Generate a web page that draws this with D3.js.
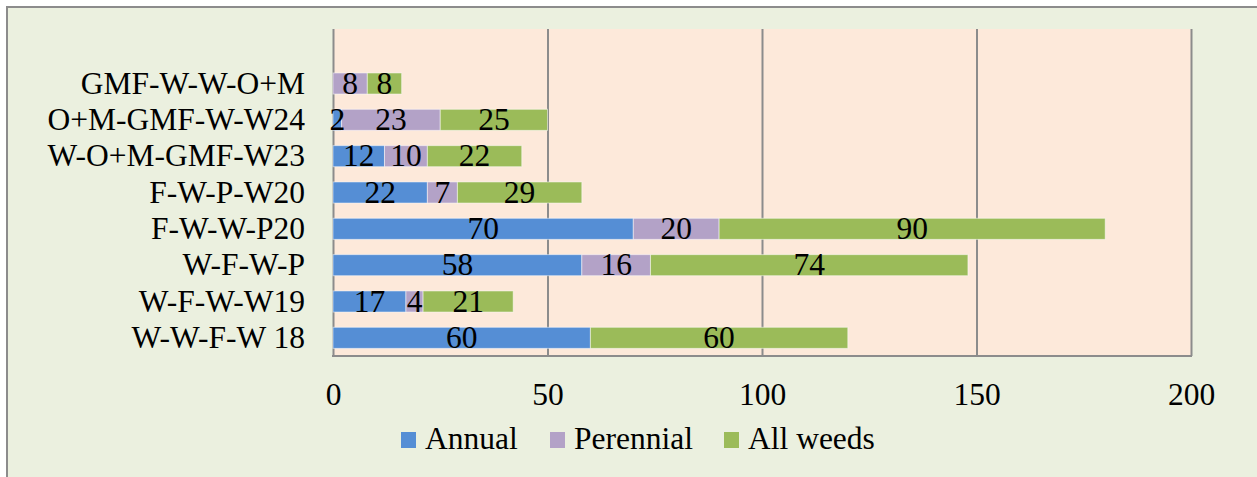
<!DOCTYPE html>
<html>
<head>
  <meta charset="UTF-8">
  <script src="https://d3js.org/d3.v7.min.js"></script>
  <title>Weeds by rotation</title>
  <style>
    body { margin: 0; background: #fff; }
  </style>
</head>
<body>
  <svg id="chart"></svg>
  <script>

    // categories, bottom to top as in the picture ("" is the empty top row)
    var categories = ["W-W-F-W 18", "W-F-W-W19", "W-F-W-P", "F-W-W-P20", "F-W-P-W20",
                      "W-O+M-GMF-W23", "O+M-GMF-W-W24", "GMF-W-W-O+M", ""];
    var annual    = [60, 17, 58, 70, 22, 12, 2, 0];
    var perennial = [0, 4, 16, 20, 7, 10, 23, 8];
    var allWeeds  = [60, 21, 74, 90, 29, 22, 25, 8];
    var seriesNames  = ["Annual", "Perennial", "All weeds"];
    var seriesColors = ["#558ED5", "#B3A2C7", "#9BBB59"];
    var tickValues = [0, 50, 100, 150, 200];

    var width = 1257, height = 477;
    var plot = {left: 333, right: 1191, top: 29, bottom: 356};
    var font = "'Liberation Serif', Tinos, 'Times New Roman', serif";
    var fontSize = 31.5;

    var svg = d3.select("#chart")
        .attr("width", width)
        .attr("height", height)
        .attr("font-family", font);

    // chart area background + border (runs off the right/bottom edge)
    svg.append("rect")
        .attr("x", 7).attr("y", 7)
        .attr("width", width + 20).attr("height", height + 20)
        .attr("fill", "#EBF0DF")
        .attr("stroke", "#8C8C8C")
        .attr("stroke-width", 2);

    svg.append("rect")
        .attr("x", plot.left).attr("y", plot.top)
        .attr("width", plot.right - plot.left)
        .attr("height", plot.bottom - plot.top)
        .attr("fill", "#FDE9DA");

    var x = d3.scaleLinear()
        .domain([0, 200])
        .range([plot.left, plot.right]);

    var y = d3.scaleBand()
        .domain(categories.slice().reverse())
        .range([plot.top, plot.bottom])
        .paddingInner(0.42)
        .paddingOuter(0.21);

    // gridlines + tick labels
    var xAxis = svg.append("g")
        .attr("transform", "translate(0," + plot.bottom + ")")
        .call(d3.axisBottom(x).tickValues(tickValues).tickSize(-(plot.bottom - plot.top)).tickPadding(0));
    xAxis.attr("font-family", font).attr("font-size", fontSize);
    xAxis.select(".domain").remove();
    xAxis.selectAll(".tick line")
        .attr("stroke", "#8C8C8C")
        .attr("stroke-width", 2);
    xAxis.selectAll(".tick text")
        .attr("y", 49)
        .attr("dy", 0)
        .attr("fill", "#000");

    svg.append("line")
        .attr("x1", plot.left - 1).attr("x2", plot.right + 1)
        .attr("y1", plot.bottom).attr("y2", plot.bottom)
        .attr("stroke", "#8C8C8C")
        .attr("stroke-width", 2);

    // stacked bars
    var rows = categories.slice(0, annual.length).map(function(c, i) {
        return {cat: c, values: [annual[i], perennial[i], allWeeds[i]]};
    });

    var segs = [];
    rows.forEach(function(r) {
        var start = 0;
        r.values.forEach(function(v, k) {
            segs.push({cat: r.cat, k: k, x0: start, x1: start + v, v: v});
            start += v;
        });
    });
    segs = segs.filter(function(d) { return d.v > 0; });

    svg.selectAll("rect.bar")
        .data(segs)
        .enter().append("rect")
        .attr("class", "bar")
        .attr("x", function(d) { return x(d.x0); })
        .attr("y", function(d) { return y(d.cat); })
        .attr("width", function(d) { return x(d.x1) - x(d.x0); })
        .attr("height", y.bandwidth())
        .attr("fill", function(d) { return seriesColors[d.k]; })
        .attr("stroke", "rgba(255,255,255,0.5)")
        .attr("stroke-width", 1);

    svg.selectAll("text.val")
        .data(segs)
        .enter().append("text")
        .attr("class", "val")
        .attr("x", function(d) { return (x(d.x0) + x(d.x1)) / 2; })
        .attr("y", function(d) { return y(d.cat) + y.bandwidth() / 2; })
        .attr("dy", "0.32em")
        .attr("text-anchor", "middle")
        .attr("font-size", fontSize)
        .text(function(d) { return d.v; });

    // category labels
    svg.selectAll("text.cat")
        .data(categories.filter(function(c) { return c !== ""; }))
        .enter().append("text")
        .attr("class", "cat")
        .attr("x", 305)
        .attr("y", function(d) { return y(d) + y.bandwidth() / 2; })
        .attr("dy", "0.32em")
        .attr("text-anchor", "end")
        .attr("font-size", fontSize)
        .text(function(d) { return d; });

    // legend
    var legendX = [401, 550, 724];
    var legend = svg.selectAll("g.legend")
        .data(seriesNames)
        .enter().append("g")
        .attr("class", "legend")
        .attr("transform", function(d, i) { return "translate(" + legendX[i] + ",432)"; });
    legend.append("rect")
        .attr("width", 15).attr("height", 16)
        .attr("fill", function(d, i) { return seriesColors[i]; });
    legend.append("text")
        .attr("x", 24).attr("y", 17)
        .attr("font-size", fontSize)
        .text(function(d) { return d; });

  </script>
</body>
</html>
